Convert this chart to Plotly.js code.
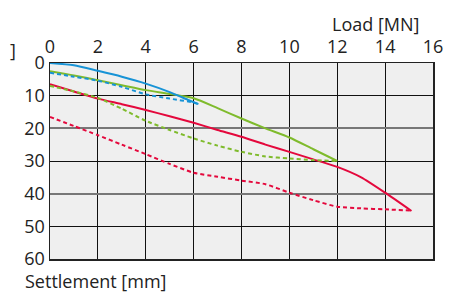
<!DOCTYPE html>
<html>
<head>
<meta charset="utf-8">
<script src="https://cdn.plot.ly/plotly-3.0.1.min.js"></script>
<style>html,body{margin:0;padding:0;background:#fff;}#chart{width:471px;height:295px;}</style>
</head>
<body>
<div id="chart"></div>
<script>
// Load [MN] vs settlement [mm]
const blueSolidX = [0, 1, 2, 3, 4, 5, 5.8, 6.2];
const blueSolidY = [0, 0.7, 2.4, 4.2, 6.3, 8.9, 11.4, 12.6];
const blueDotX = [0, 1, 2, 3, 4, 5, 6, 6.2];
const blueDotY = [3, 4.2, 5.4, 7.3, 9.6, 10.9, 12.1, 12.6];
const greenSolidX = [0, 1, 2, 3, 4, 5, 6, 7, 8, 9, 10, 11, 12];
const greenSolidY = [2.5, 3.8, 5.3, 6.8, 8.3, 9.5, 10.8, 13.8, 17.0, 20.0, 22.8, 26.4, 30.0];
const greenDotX = [0, 1, 2, 3, 4, 5, 6, 7, 8, 9, 10, 11, 12];
const greenDotY = [7.0, 8.7, 10.7, 14.0, 17.7, 20.5, 23.1, 25.3, 27.2, 28.6, 29.2, 29.7, 30.0];
const redSolidX = [0, 1, 2, 3, 4, 5, 6, 7, 8, 9, 10, 11, 12, 13, 14, 15.1];
const redSolidY = [6.5, 8.7, 10.9, 12.6, 14.4, 16.3, 18.3, 20.5, 22.6, 25.0, 27.2, 29.5, 31.8, 35.0, 39.7, 45.3];
const redDotX = [0, 1, 2, 3, 4, 5, 6, 7, 8, 9, 10, 11, 12, 13, 14, 15.1];
const redDotY = [16.5, 19.3, 22.1, 25.0, 27.9, 30.9, 33.6, 34.8, 36.0, 37.1, 39.7, 42.0, 44.0, 44.5, 44.8, 45.2];
const xTicks = [0, 2, 4, 6, 8, 10, 12, 14, 16];
const yTicks = [0, 10, 20, 30, 40, 50, 60];
const yGrayTicks = [20, 40];

const BLUE = '#1793d6', GREEN = '#7fbb2c', RED = '#e4083c';
const DOT = '4px,3px';
function tr(x, y, color, dash) {
  return {x: x, y: y, type: 'scatter', mode: 'lines', xaxis: 'x', yaxis: 'y',
    line: {color: color, width: 2, dash: dash, shape: 'spline', smoothing: 0.6},
    hoverinfo: 'skip', showlegend: false};
}
const data = [
  tr(redDotX, redDotY, RED, DOT),
  tr(redSolidX, redSolidY, RED, 'solid'),
  tr(greenDotX, greenDotY, GREEN, DOT),
  tr(greenSolidX, greenSolidY, GREEN, 'solid'),
  tr(blueDotX, blueDotY, BLUE, DOT),
  tr(blueSolidX, blueSolidY, BLUE, 'solid')
];
const FONT = '"Open Sans", Roboto, sans-serif';
const FS = 18;
const layout = {
  width: 471, height: 295,
  margin: {l: 50, r: 38, t: 63, b: 36, pad: 0},
  paper_bgcolor: '#ffffff', plot_bgcolor: '#efefef',
  font: {family: FONT, size: FS, color: '#222'},
  xaxis: {side: 'top', range: [0, 16], tickvals: xTicks, ticktext: xTicks.map(String),
    showgrid: true, gridcolor: '#111', gridwidth: 1, zeroline: false,
    showline: true, linecolor: '#222', linewidth: 1.5, mirror: true,
    ticks: '', ticklabelstandoff: 1, tickfont: {size: FS, color: '#222'}, fixedrange: true},
  yaxis: {range: [60, 0], tickvals: yTicks, ticktext: yTicks.map(String),
    showgrid: true, gridcolor: '#111', gridwidth: 1, zeroline: false,
    showline: true, linecolor: '#222', linewidth: 1.5, mirror: true,
    ticks: '', ticklabelstandoff: 0, tickfont: {size: FS, color: '#222'}, fixedrange: true},
  yaxis2: {overlaying: 'y', range: [60, 0], tickvals: yGrayTicks, showticklabels: false,
    showgrid: true, gridcolor: '#777', gridwidth: 2, zeroline: false, showline: false, ticks: ''},
  annotations: [
    {text: 'Load [MN]', xref: 'paper', yref: 'paper', x: 1.0, xanchor: 'right', xshift: -12,
     y: 1, yshift: 39, yanchor: 'middle', showarrow: false, font: {size: FS, color: '#222'}},
    {text: 'Settlement [mm]', xref: 'paper', yref: 'paper', x: 0, xshift: -27, xanchor: 'left',
     y: 0, yshift: -22, yanchor: 'middle', showarrow: false, font: {size: FS, color: '#222'}},
    {text: ']', xref: 'paper', yref: 'paper', x: 0, xshift: -37, xanchor: 'center',
     y: 1, yshift: 13, yanchor: 'middle', showarrow: false, font: {size: FS, color: '#222'}}
  ]
};
data.push({x: [0], y: [0], type: 'scatter', mode: 'markers', yaxis: 'y2', xaxis: 'x',
  marker: {opacity: 0}, hoverinfo: 'skip', showlegend: false});
Plotly.newPlot('chart', data, layout, {displayModeBar: false, staticPlot: true});
</script>
</body>
</html>
